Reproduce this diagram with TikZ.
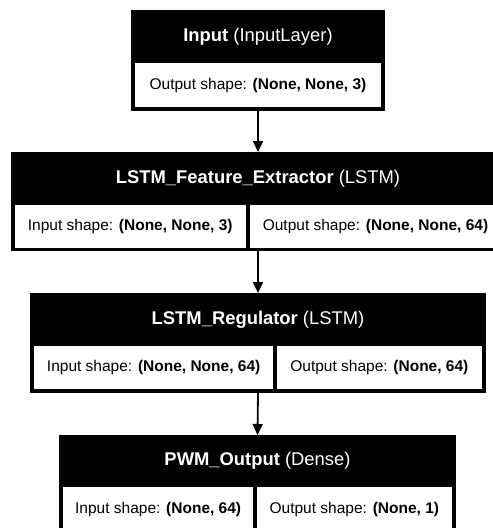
\documentclass[tikz,border=0pt]{standalone}
\usepackage{fontspec}
\setmainfont{Liberation Sans}
\usetikzlibrary{arrows.meta}
\begin{document}
\begin{tikzpicture}[x=1pt,y=1pt,
  boxframe/.style={fill=black, draw=none, inner sep=0pt, outer sep=0pt, anchor=north west},
  cellbox/.style={fill=white, draw=none, inner sep=0pt, outer sep=0pt, anchor=north west, font=\fontsize{15.5}{18}\selectfont},
  headtxt/.style={text=white, inner sep=0pt, font=\fontsize{18.4}{22}\selectfont},
  flow/.style={draw=black, line width=1.8pt, -{Triangle[length=11pt,width=10pt]}}]
\useasboundingbox[fill=white] (0,0) rectangle (493,-528);
% Box 1
\node[boxframe, minimum width=254pt, minimum height=101pt] (b1) at (131,-10) {};
\node[headtxt] (h1) at (258,-36.5) {\textbf{Input} (InputLayer)};
\node[cellbox, minimum width=246pt, minimum height=44pt] (c1) at (135,-63) {Output shape: \textbf{(None, None, 3)}};
% Box 2
\node[boxframe, minimum width=494pt, minimum height=99pt] (b2) at (11,-152) {};
\node[headtxt] (h2) at (258,-178.5) {\textbf{LSTM\_Feature\_Extractor} (LSTM)};
\node[cellbox, minimum width=231.5pt, minimum height=42.5pt] (c21) at (14.5,-205) {Input shape: \textbf{(None, None, 3)}};
\node[cellbox, minimum width=252pt, minimum height=42.5pt] (c22) at (249.5,-205) {Output shape: \textbf{(None, None, 64)}};
% Box 3
\node[boxframe, minimum width=456pt, minimum height=100pt] (b3) at (30,-293) {};
\node[headtxt] (h3) at (258,-319.5) {\textbf{LSTM\_Regulator} (LSTM)};
\node[cellbox, minimum width=239.3pt, minimum height=43pt] (c31) at (34,-346) {Input shape: \textbf{(None, None, 64)}};
\node[cellbox, minimum width=205.3pt, minimum height=43pt] (c32) at (276.7,-346) {Output shape: \textbf{(None, 64)}};
% Box 4
\node[boxframe, minimum width=397pt, minimum height=101pt] (b4) at (59,-435) {};
\node[headtxt] (h4) at (257.5,-461) {\textbf{PWM\_Output} (Dense)};
\node[cellbox, minimum width=190.3pt, minimum height=45pt] (c41) at (63,-487) {Input shape: \textbf{(None, 64)}};
\node[cellbox, minimum width=195.3pt, minimum height=45pt] (c42) at (256.7,-487) {Output shape: \textbf{(None, 1)}};
% Arrows
\draw[flow] (b1.south) -- (b2.north);
\draw[flow] (b2.south) -- (b3.north);
\draw[flow] (b3.south) -- (b4.north);
\end{tikzpicture}
\end{document}
